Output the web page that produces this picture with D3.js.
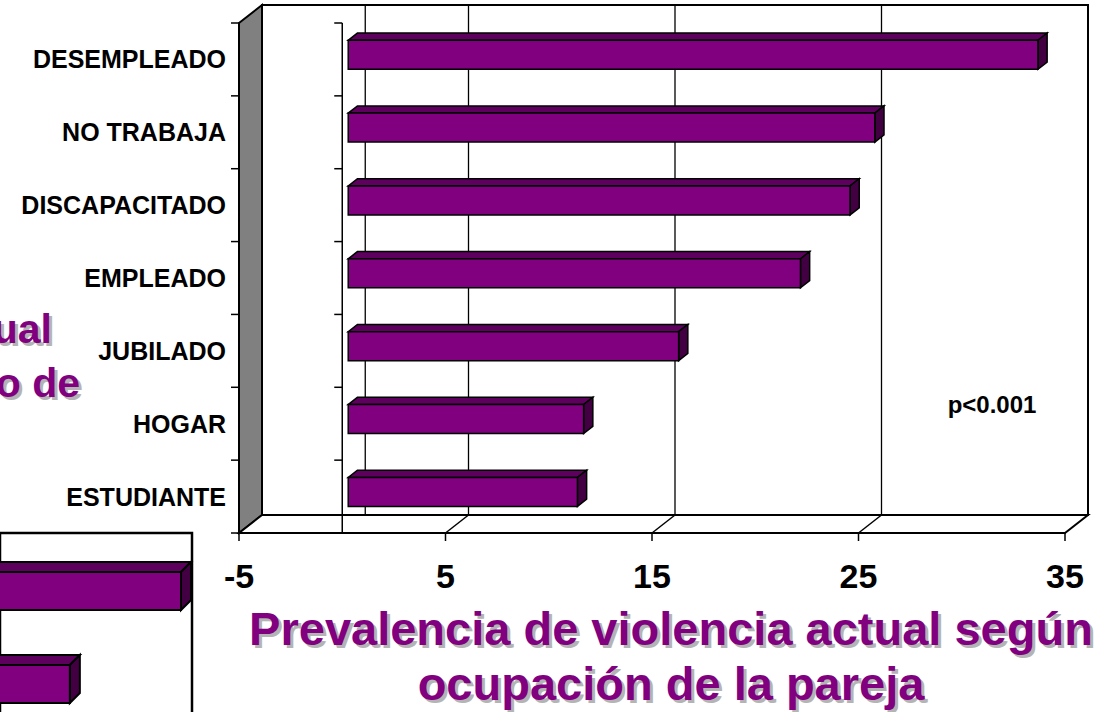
<!DOCTYPE html>
<html>
  <head>
    <meta charset="utf-8">
    <script src="https://d3js.org/d3.v7.min.js"></script>
    <style>
      body { margin: 0; background: #fff; }
      text { font-family: "Liberation Sans", Arial, sans-serif; font-weight: bold; }
    </style>
  </head>
  <body>
    <svg width="1102" height="712"></svg>
    <script>
      // data
      var categories = ["DESEMPLEADO", "NO TRABAJA", "DISCAPACITADO", "EMPLEADO", "JUBILADO", "HOGAR", "ESTUDIANTE"];
      var values = [33.4, 25.5, 24.3, 21.9, 16.0, 11.4, 11.1];
      var xTicks = [-5, 5, 15, 25, 35];
      var gridValues = [0, 5, 15, 25];
      var titleLines = ["Prevalencia de violencia actual según", "ocupación de la pareja"];
      // pieces of the slide behind this chart
      var sideTitle = ["actual", "tipo de"];
      var fragValues = [38, 22];

      var svg = d3.select("svg");
      var purple = "#800080", purpleTop = "#5e005e", purpleEnd = "#420042";

      // 3d box: front plane scale plus a depth offset
      var x = d3.scaleLinear().domain([-5, 35]).range([239, 1065]);
      var y = d3.scaleBand().domain(categories).range([23, 533]);
      var DX = 23, DY = -18;
      var z0 = 0.26, z1 = 0.66, half = 14.5;
      function P(v, yy, z) { return [x(v) + DX * z, yy + DY * z]; }
      function poly(pts) { return pts.map(function(p) { return p.join(","); }).join(" "); }

      var yTop = 23, yBot = 533;
      var g = svg.append("g");

      // back wall
      g.append("polygon")
        .attr("points", poly([P(-5, yTop, 1), P(35, yTop, 1), P(35, yBot, 1), P(-5, yBot, 1)]))
        .attr("fill", "#fff").attr("stroke", "#000").attr("stroke-width", 2);

      // gridlines on back wall
      g.selectAll(".grid").data(gridValues).enter().append("line")
        .attr("x1", function(d) { return P(d, yTop, 1)[0]; })
        .attr("x2", function(d) { return P(d, yBot, 1)[0]; })
        .attr("y1", P(0, yTop, 1)[1])
        .attr("y2", P(0, yBot, 1)[1])
        .attr("stroke", "#000").attr("stroke-width", 1.3);

      // left wall
      g.append("polygon")
        .attr("points", poly([P(-5, yTop, 0), P(-5, yTop, 1), P(-5, yBot, 1), P(-5, yBot, 0)]))
        .attr("fill", "#808080").attr("stroke", "#000").attr("stroke-width", 2);

      // floor
      g.append("polygon")
        .attr("points", poly([P(-5, yBot, 0), P(-5, yBot, 1), P(35, yBot, 1), P(35, yBot, 0)]))
        .attr("fill", "#fff").attr("stroke", "#000").attr("stroke-width", 2);

      g.selectAll(".diag").data(xTicks.slice(1, -1)).enter().append("line")
        .attr("x1", function(d) { return P(d, yBot, 0)[0]; })
        .attr("y1", yBot)
        .attr("x2", function(d) { return P(d, yBot, 1)[0]; })
        .attr("y2", P(0, yBot, 1)[1])
        .attr("stroke", "#000").attr("stroke-width", 1.5);

      // value ticks under the floor
      g.selectAll(".xtick").data(xTicks).enter().append("line")
        .attr("x1", function(d) { return x(d); })
        .attr("x2", function(d) { return x(d); })
        .attr("y1", yBot).attr("y2", yBot + 8)
        .attr("stroke", "#000").attr("stroke-width", 1.5);

      // category boundaries
      var bounds = categories.map(function(c) { return y(c); }).concat([yBot]);

      g.selectAll(".ltick").data(bounds).enter().append("line")
        .attr("x1", x(-5) - 8).attr("x2", x(-5))
        .attr("y1", function(d) { return d; })
        .attr("y2", function(d) { return d; })
        .attr("stroke", "#000").attr("stroke-width", 1.5);

      // category axis crossing at 0
      g.append("line")
        .attr("x1", x(0)).attr("x2", x(0))
        .attr("y1", yTop).attr("y2", yBot)
        .attr("stroke", "#000").attr("stroke-width", 1.5);

      g.selectAll(".ctick").data(bounds).enter().append("line")
        .attr("x1", x(0) - 8).attr("x2", x(0))
        .attr("y1", function(d) { return d; })
        .attr("y2", function(d) { return d; })
        .attr("stroke", "#000").attr("stroke-width", 1.5);

      // bars
      var bars = g.selectAll(".bar").data(categories).enter().append("g");

      bars.each(function(c, i) {
        var v = values[i];
        var cy = y(c) + y.bandwidth() / 2;
        var yt = cy - half, yb = cy + half;
        var b = d3.select(this);
        b.append("polygon")
          .attr("points", poly([P(0, yt, z0), P(v, yt, z0), P(v, yt, z1), P(0, yt, z1)]))
          .attr("fill", purpleTop).attr("stroke", "#000").attr("stroke-width", 1.5);
        b.append("polygon")
          .attr("points", poly([P(v, yt, z0), P(v, yt, z1), P(v, yb, z1), P(v, yb, z0)]))
          .attr("fill", purpleEnd).attr("stroke", "#000").attr("stroke-width", 1.5);
        b.append("polygon")
          .attr("points", poly([P(0, yt, z0), P(v, yt, z0), P(v, yb, z0), P(0, yb, z0)]))
          .attr("fill", purple).attr("stroke", "#000").attr("stroke-width", 1.5);
      });

      // category labels
      g.selectAll(".clabel").data(categories).enter().append("text")
        .attr("x", 226)
        .attr("y", function(d) { return y(d) + y.bandwidth() / 2; })
        .attr("dy", "0.36em")
        .attr("text-anchor", "end")
        .attr("font-size", "25px")
        .text(function(d) { return d; });

      // value labels
      g.selectAll(".xlabel").data(xTicks).enter().append("text")
        .attr("x", function(d) { return x(d); })
        .attr("y", 588)
        .attr("text-anchor", "middle")
        .attr("font-size", "34px")
        .text(function(d) { return d; });

      // p value
      g.append("text")
        .attr("x", 992).attr("y", 413)
        .attr("text-anchor", "middle")
        .attr("font-size", "24px")
        .text("p<0.001");

      // title with shadow
      function shadowText(sel, xx, yy, size, anchor, str) {
        sel.append("text").attr("x", xx + 3).attr("y", yy + 3)
          .attr("text-anchor", anchor).attr("font-size", size)
          .attr("fill", "#b4b4b4").text(str);
        sel.append("text").attr("x", xx).attr("y", yy)
          .attr("text-anchor", anchor).attr("font-size", size)
          .attr("fill", purple).text(str);
      }
      titleLines.forEach(function(t, i) {
        shadowText(svg, 671, 645 + i * 55, "47px", "middle", t);
      });
      sideTitle.forEach(function(t, i) {
        shadowText(svg, [52, 80][i], 343 + i * 54, "41px", "end", t);
      });

      // partial chart at lower left
      var fx = d3.scaleLinear().domain([0, 38]).range([-83, 181]);
      var frag = svg.append("g");
      frag.append("rect")
        .attr("x", 0).attr("y", 533).attr("width", 192).attr("height", 200)
        .attr("fill", "#fff").attr("stroke", "#000").attr("stroke-width", 2.5);
      var fragTops = [572, 665];
      fragValues.forEach(function(v, i) {
        var xr = fx(v), yt = fragTops[i], yb = yt + 38;
        frag.append("polygon")
          .attr("points", poly([[-5, yt], [xr, yt], [xr + 10, yt - 10], [-5, yt - 10]]))
          .attr("fill", purpleTop).attr("stroke", "#000").attr("stroke-width", 2);
        frag.append("polygon")
          .attr("points", poly([[xr, yt], [xr + 10, yt - 10], [xr + 10, yb - 10], [xr, yb]]))
          .attr("fill", purpleEnd).attr("stroke", "#000").attr("stroke-width", 2);
        frag.append("rect")
          .attr("x", -5).attr("y", yt).attr("width", xr + 5).attr("height", yb - yt)
          .attr("fill", purple).attr("stroke", "#000").attr("stroke-width", 2);
      });
    </script>
  </body>
</html>
